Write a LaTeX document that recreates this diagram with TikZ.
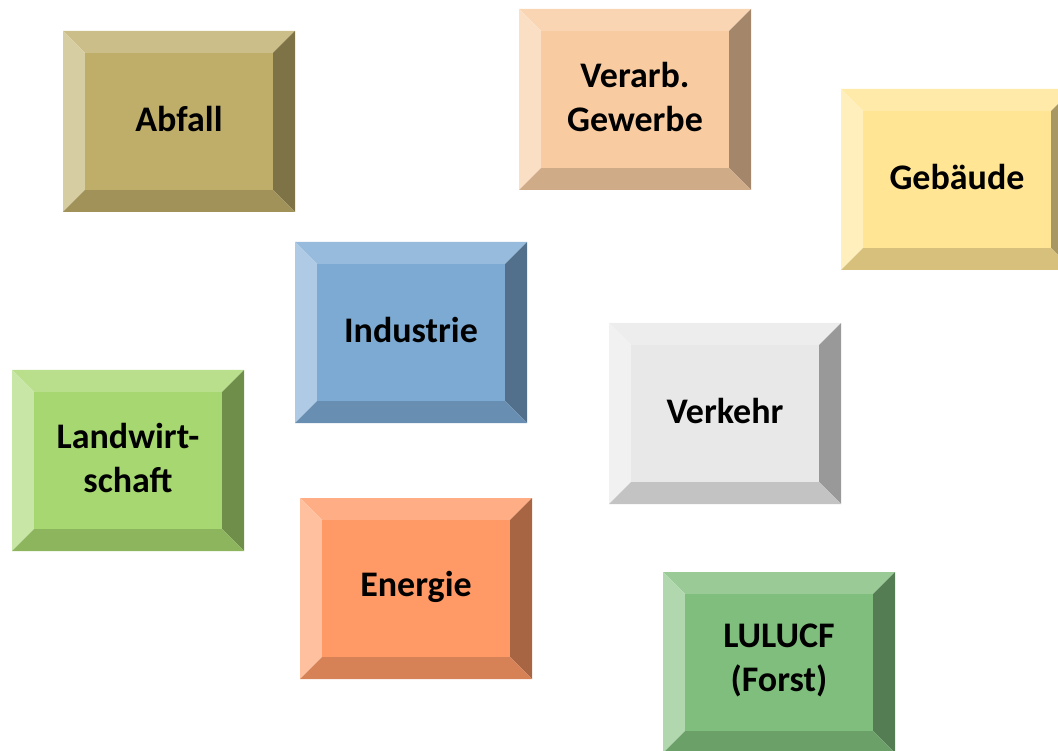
\documentclass[tikz,border=0pt]{standalone}
\usepackage{fontspec}
\setmainfont{Carlito}
\usepackage{tikz}
\usetikzlibrary{positioning}

\definecolor{abfallc}{RGB}{190,174,106}
\definecolor{gewerbec}{RGB}{248,203,161}
\definecolor{gebaeudec}{RGB}{255,229,148}
\definecolor{industriec}{RGB}{124,170,211}
\definecolor{verkehrc}{RGB}{232,232,232}
\definecolor{landwirtc}{RGB}{167,215,112}
\definecolor{energiec}{RGB}{255,153,102}
\definecolor{lulucfc}{RGB}{128,190,125}

\tikzset{
  sector/.style={align=center, text=black, font=\fontsize{36}{44}\selectfont\bfseries}
}

\begin{document}
\begin{tikzpicture}[x=1pt, y=-1pt]
\useasboundingbox (0,0) rectangle (1058,751);
% beveled boxes, 232 x 181 with a 22 wide bevel
\foreach \nm/\x/\y/\c/\txt in {
  abfall/63/31/abfallc/Abfall,
  gewerbe/519/9/gewerbec/{Verarb.\\Gewerbe},
  gebaeude/841/89/gebaeudec/Gebäude,
  industrie/295/242/industriec/Industrie,
  verkehr/609/323/verkehrc/Verkehr,
  landwirt/12/370/landwirtc/{Landwirt-\\schaft},
  energie/300/498/energiec/Energie,
  lulucf/663/572/lulucfc/{LULUCF\\(Forst)}}
{
\begin{scope}[shift={(\x,\y)}]
\fill [\c!80!white] (0,0) -- (232,0) -- (210,22) -- (22,22) -- cycle;
\fill [\c!62!white] (0,0) -- (22,22) -- (22,159) -- (0,181) -- cycle;
\fill [\c!66!black] (232,0) -- (232,181) -- (210,159) -- (210,22) -- cycle;
\fill [\c!84!black] (0,181) -- (232,181) -- (210,159) -- (22,159) -- cycle;
\fill [\c] (22,22) rectangle (210,159);
\node [sector] (\nm) at (116,88.5) {\txt};
\end{scope}
}
\end{tikzpicture}
\end{document}
